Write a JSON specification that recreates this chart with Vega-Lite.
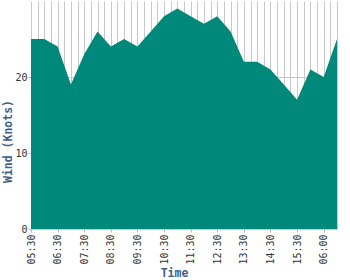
{
  "$schema": "https://vega.github.io/schema/vega-lite/v6.json",
  "autosize": "none",
  "width": 306,
  "height": 228,
  "padding": {"left": 31, "top": 1, "right": 13, "bottom": 51},
  "background": "white",
  "config": {"view": {"stroke": null}},
  "data": {
    "values": [
      {"time": "2012-01-01T05:30:00", "wind": 25},
      {"time": "2012-01-01T06:00:00", "wind": 25},
      {"time": "2012-01-01T06:30:00", "wind": 24},
      {"time": "2012-01-01T07:00:00", "wind": 19},
      {"time": "2012-01-01T07:30:00", "wind": 23},
      {"time": "2012-01-01T08:00:00", "wind": 26},
      {"time": "2012-01-01T08:30:00", "wind": 24},
      {"time": "2012-01-01T09:00:00", "wind": 25},
      {"time": "2012-01-01T09:30:00", "wind": 24},
      {"time": "2012-01-01T10:00:00", "wind": 26},
      {"time": "2012-01-01T10:30:00", "wind": 28},
      {"time": "2012-01-01T11:00:00", "wind": 29},
      {"time": "2012-01-01T11:30:00", "wind": 28},
      {"time": "2012-01-01T12:00:00", "wind": 27},
      {"time": "2012-01-01T12:30:00", "wind": 28},
      {"time": "2012-01-01T13:00:00", "wind": 26},
      {"time": "2012-01-01T13:30:00", "wind": 22},
      {"time": "2012-01-01T14:00:00", "wind": 22},
      {"time": "2012-01-01T14:30:00", "wind": 21},
      {"time": "2012-01-01T15:00:00", "wind": 19},
      {"time": "2012-01-01T15:30:00", "wind": 17},
      {"time": "2012-01-01T16:00:00", "wind": 21},
      {"time": "2012-01-01T16:30:00", "wind": 20},
      {"time": "2012-01-01T17:00:00", "wind": 25}
    ]
  },
  "mark": {"type": "area", "color": "#00897B", "opacity": 1, "interpolate": "linear"},
  "encoding": {
    "x": {
      "field": "time",
      "type": "temporal",
      "scale": {"nice": false},
      "axis": {
        "title": "Time",
        "values": [
          {"year": 2012, "month": 1, "date": 1, "hours": 5, "minutes": 30},
          {"year": 2012, "month": 1, "date": 1, "hours": 5, "minutes": 45},
          {"year": 2012, "month": 1, "date": 1, "hours": 6, "minutes": 0},
          {"year": 2012, "month": 1, "date": 1, "hours": 6, "minutes": 15},
          {"year": 2012, "month": 1, "date": 1, "hours": 6, "minutes": 30},
          {"year": 2012, "month": 1, "date": 1, "hours": 6, "minutes": 45},
          {"year": 2012, "month": 1, "date": 1, "hours": 7, "minutes": 0},
          {"year": 2012, "month": 1, "date": 1, "hours": 7, "minutes": 15},
          {"year": 2012, "month": 1, "date": 1, "hours": 7, "minutes": 30},
          {"year": 2012, "month": 1, "date": 1, "hours": 7, "minutes": 45},
          {"year": 2012, "month": 1, "date": 1, "hours": 8, "minutes": 0},
          {"year": 2012, "month": 1, "date": 1, "hours": 8, "minutes": 15},
          {"year": 2012, "month": 1, "date": 1, "hours": 8, "minutes": 30},
          {"year": 2012, "month": 1, "date": 1, "hours": 8, "minutes": 45},
          {"year": 2012, "month": 1, "date": 1, "hours": 9, "minutes": 0},
          {"year": 2012, "month": 1, "date": 1, "hours": 9, "minutes": 15},
          {"year": 2012, "month": 1, "date": 1, "hours": 9, "minutes": 30},
          {"year": 2012, "month": 1, "date": 1, "hours": 9, "minutes": 45},
          {"year": 2012, "month": 1, "date": 1, "hours": 10, "minutes": 0},
          {"year": 2012, "month": 1, "date": 1, "hours": 10, "minutes": 15},
          {"year": 2012, "month": 1, "date": 1, "hours": 10, "minutes": 30},
          {"year": 2012, "month": 1, "date": 1, "hours": 10, "minutes": 45},
          {"year": 2012, "month": 1, "date": 1, "hours": 11, "minutes": 0},
          {"year": 2012, "month": 1, "date": 1, "hours": 11, "minutes": 15},
          {"year": 2012, "month": 1, "date": 1, "hours": 11, "minutes": 30},
          {"year": 2012, "month": 1, "date": 1, "hours": 11, "minutes": 45},
          {"year": 2012, "month": 1, "date": 1, "hours": 12, "minutes": 0},
          {"year": 2012, "month": 1, "date": 1, "hours": 12, "minutes": 15},
          {"year": 2012, "month": 1, "date": 1, "hours": 12, "minutes": 30},
          {"year": 2012, "month": 1, "date": 1, "hours": 12, "minutes": 45},
          {"year": 2012, "month": 1, "date": 1, "hours": 13, "minutes": 0},
          {"year": 2012, "month": 1, "date": 1, "hours": 13, "minutes": 15},
          {"year": 2012, "month": 1, "date": 1, "hours": 13, "minutes": 30},
          {"year": 2012, "month": 1, "date": 1, "hours": 13, "minutes": 45},
          {"year": 2012, "month": 1, "date": 1, "hours": 14, "minutes": 0},
          {"year": 2012, "month": 1, "date": 1, "hours": 14, "minutes": 15},
          {"year": 2012, "month": 1, "date": 1, "hours": 14, "minutes": 30},
          {"year": 2012, "month": 1, "date": 1, "hours": 14, "minutes": 45},
          {"year": 2012, "month": 1, "date": 1, "hours": 15, "minutes": 0},
          {"year": 2012, "month": 1, "date": 1, "hours": 15, "minutes": 15},
          {"year": 2012, "month": 1, "date": 1, "hours": 15, "minutes": 30},
          {"year": 2012, "month": 1, "date": 1, "hours": 15, "minutes": 45},
          {"year": 2012, "month": 1, "date": 1, "hours": 16, "minutes": 0},
          {"year": 2012, "month": 1, "date": 1, "hours": 16, "minutes": 15},
          {"year": 2012, "month": 1, "date": 1, "hours": 16, "minutes": 30},
          {"year": 2012, "month": 1, "date": 1, "hours": 16, "minutes": 45},
          {"year": 2012, "month": 1, "date": 1, "hours": 17, "minutes": 0}
        ],
        "labelExpr": "minutes(datum.value) == 30 ? (hours(datum.value) == 16 ? '06:00' : timeFormat(datum.value, '%H:%M')) : ''",
        "labelAngle": 270,
        "labelAlign": "right",
        "labelBaseline": "middle",
        "labelFlush": false,
        "labelOverlap": false,
        "labelFont": "DejaVu Sans Mono",
        "labelFontSize": 10,
        "labelColor": "#333333",
        "labelPadding": 2,
        "tickSize": 3,
        "tickColor": {"condition": {"test": "minutes(datum.value) == 30", "value": "#bbbbbb"}, "value": "transparent"},
        "domain": false,
        "grid": true,
        "gridColor": "#c8c8c8",
        "titleFont": "DejaVu Sans Mono",
        "titleFontWeight": "bold",
        "titleFontSize": 11.5,
        "titleColor": "#3e5f8a",
        "titleX": 143,
        "titleY": 47,
        "titleAlign": "center",
        "titleBaseline": "alphabetic"
      }
    },
    "y": {
      "field": "wind",
      "type": "quantitative",
      "scale": {"domain": [0, 30], "nice": false},
      "axis": {
        "title": "Wind (Knots)",
        "values": [0, 10, 20],
        "labelFont": "DejaVu Sans Mono",
        "labelFontSize": 10,
        "labelColor": "#333333",
        "labelPadding": 1,
        "tickSize": 3,
        "tickColor": "#bbbbbb",
        "domain": false,
        "grid": true,
        "gridColor": "#c8c8c8",
        "titleFont": "DejaVu Sans Mono",
        "titleFontWeight": "bold",
        "titleFontSize": 11.5,
        "titleColor": "#3e5f8a",
        "titleAngle": 270,
        "titleX": -23,
        "titleY": 140,
        "titleAlign": "center",
        "titleBaseline": "middle"
      }
    }
  }
}
